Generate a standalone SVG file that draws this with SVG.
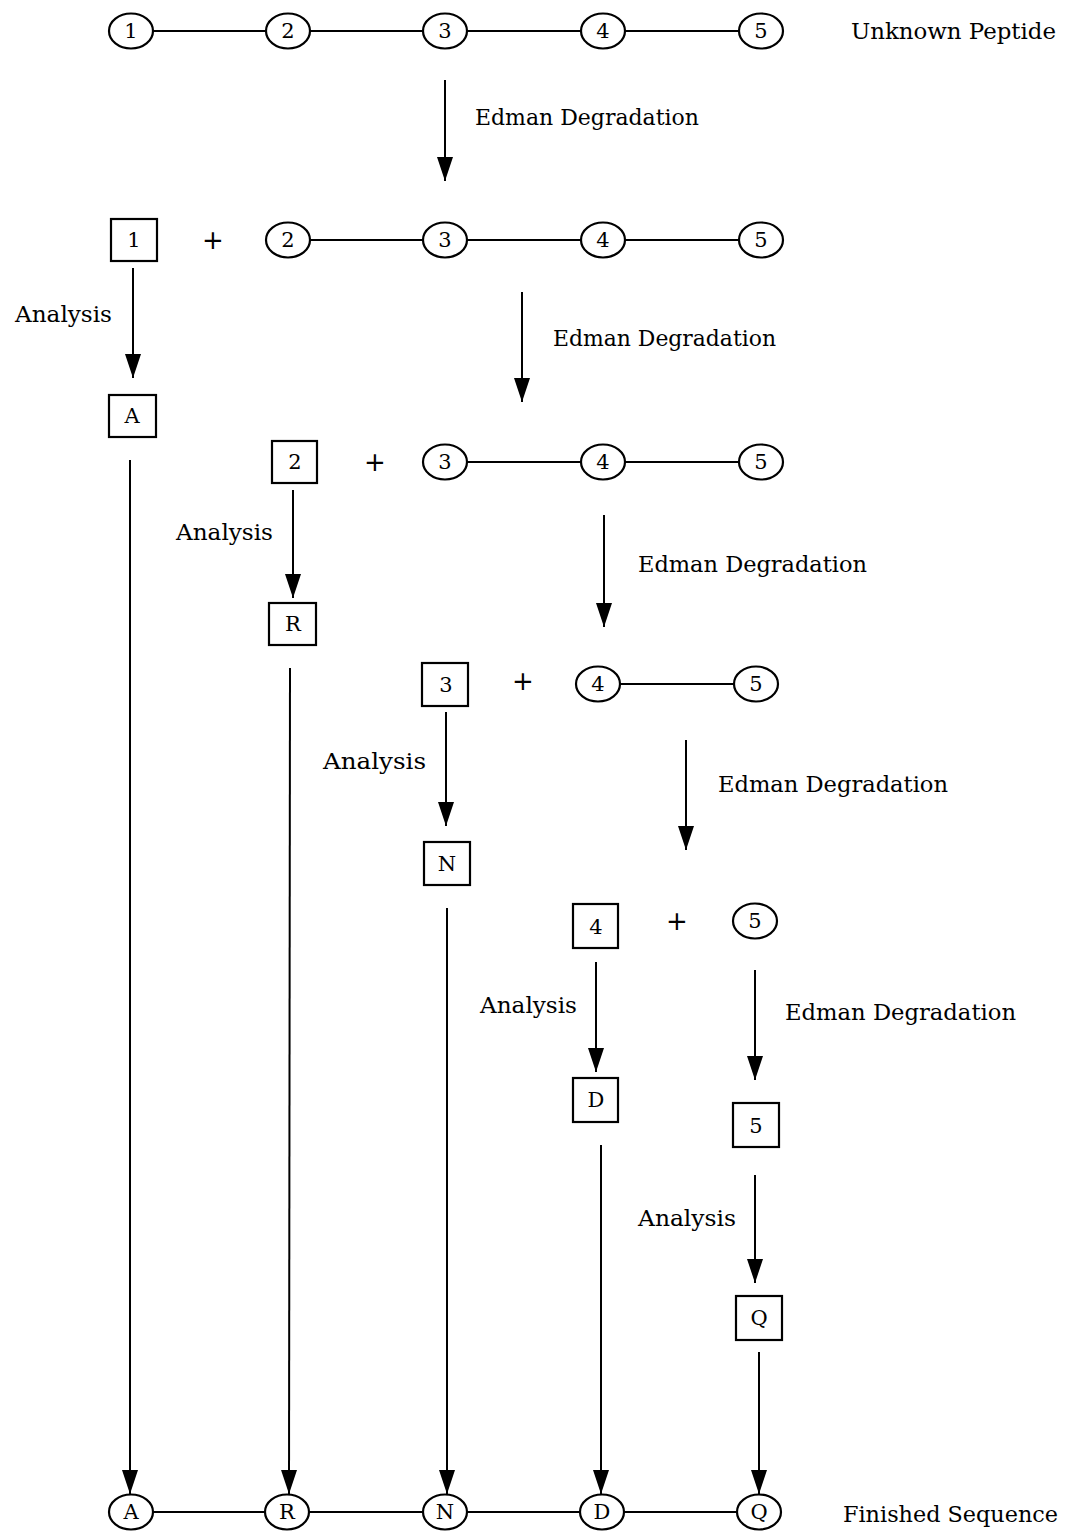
<svg xmlns="http://www.w3.org/2000/svg" width="1067" height="1537" viewBox="0 0 1067 1537">
<style>
.bg{fill:#fff}
.c{fill:#fff;stroke:#000;stroke-width:2.2}
.b{fill:#fff;stroke:#000;stroke-width:2.2}
.ln{stroke:#000;stroke-width:2;fill:none}
.ar{stroke:#000;stroke-width:2;fill:none;marker-end:url(#ah)}
.t{font-family:"DejaVu Serif","Liberation Serif",serif;font-size:21px;fill:#000;text-anchor:middle;dominant-baseline:central}
.lbl{font-family:"DejaVu Serif","Liberation Serif",serif;font-size:22px;fill:#000}
.plus{font-family:"DejaVu Sans","Liberation Sans",sans-serif;font-size:26px;fill:#000;text-anchor:middle;dominant-baseline:central}
</style>
<defs>
<marker id="ah" markerUnits="userSpaceOnUse" markerWidth="24" markerHeight="16" refX="24" refY="8" orient="auto">
<path d="M0,0 L24,8 L0,16 z" fill="#000"/>
</marker>
</defs>
<rect class="bg" x="0" y="0" width="1067" height="1537"/>

<g id="connectors">
<line class="ln" x1="153" y1="31" x2="266" y2="31"/>
<line class="ln" x1="310" y1="31" x2="423" y2="31"/>
<line class="ln" x1="467" y1="31" x2="581" y2="31"/>
<line class="ln" x1="625" y1="31" x2="739" y2="31"/>
<line class="ln" x1="310" y1="240" x2="423" y2="240"/>
<line class="ln" x1="467" y1="240" x2="581" y2="240"/>
<line class="ln" x1="625" y1="240" x2="739" y2="240"/>
<line class="ln" x1="467" y1="462" x2="581" y2="462"/>
<line class="ln" x1="625" y1="462" x2="739" y2="462"/>
<line class="ln" x1="620" y1="684" x2="734" y2="684"/>
<line class="ln" x1="153" y1="1512" x2="265" y2="1512"/>
<line class="ln" x1="309" y1="1512" x2="423" y2="1512"/>
<line class="ln" x1="467" y1="1512" x2="580" y2="1512"/>
<line class="ln" x1="624" y1="1512" x2="737" y2="1512"/>

<line class="ar" x1="445" y1="80" x2="445" y2="181"/>
<line class="ar" x1="522" y1="292" x2="522" y2="402"/>
<line class="ar" x1="604" y1="515" x2="604" y2="627"/>
<line class="ar" x1="686" y1="740" x2="686" y2="850"/>
<line class="ar" x1="755" y1="970" x2="755" y2="1080"/>

<line class="ar" x1="133" y1="268" x2="133" y2="378"/>
<line class="ar" x1="293" y1="490" x2="293" y2="598"/>
<line class="ar" x1="446" y1="712" x2="446" y2="826"/>
<line class="ar" x1="596" y1="962" x2="596" y2="1072"/>
<line class="ar" x1="755" y1="1175" x2="755" y2="1283"/>

<line class="ar" x1="130" y1="460" x2="130" y2="1494"/>
<line class="ar" x1="290" y1="668" x2="289" y2="1494"/>
<line class="ar" x1="447" y1="908" x2="447" y2="1494"/>
<line class="ar" x1="601" y1="1145" x2="601" y2="1494"/>
<line class="ar" x1="759" y1="1352" x2="759" y2="1494"/>
</g>

<g id="r1c1"><ellipse class="c" cx="131" cy="31" rx="22" ry="17.5"/><text class="t" x="131" y="31">1</text></g>
<g id="r1c2"><ellipse class="c" cx="288" cy="31" rx="22" ry="17.5"/><text class="t" x="288" y="31">2</text></g>
<g id="r1c3"><ellipse class="c" cx="445" cy="31" rx="22" ry="17.5"/><text class="t" x="445" y="31">3</text></g>
<g id="r1c4"><ellipse class="c" cx="603" cy="31" rx="22" ry="17.5"/><text class="t" x="603" y="31">4</text></g>
<g id="r1c5"><ellipse class="c" cx="761" cy="31" rx="22" ry="17.5"/><text class="t" x="761" y="31">5</text></g>
<text class="lbl" x="851" y="39" textLength="205" lengthAdjust="spacingAndGlyphs">Unknown Peptide</text>
<text class="lbl" x="475" y="125" textLength="224" lengthAdjust="spacingAndGlyphs">Edman Degradation</text>

<g id="r2b1"><rect class="b" x="111" y="219" width="46" height="42"/><text class="t" x="134" y="240">1</text></g>
<text class="plus" x="213" y="240">+</text>
<g id="r2c2"><ellipse class="c" cx="288" cy="240" rx="22" ry="17.5"/><text class="t" x="288" y="240">2</text></g>
<g id="r2c3"><ellipse class="c" cx="445" cy="240" rx="22" ry="17.5"/><text class="t" x="445" y="240">3</text></g>
<g id="r2c4"><ellipse class="c" cx="603" cy="240" rx="22" ry="17.5"/><text class="t" x="603" y="240">4</text></g>
<g id="r2c5"><ellipse class="c" cx="761" cy="240" rx="22" ry="17.5"/><text class="t" x="761" y="240">5</text></g>
<text class="lbl" x="15" y="322" textLength="97" lengthAdjust="spacingAndGlyphs">Analysis</text>
<text class="lbl" x="553" y="346" textLength="223" lengthAdjust="spacingAndGlyphs">Edman Degradation</text>
<g id="bA"><rect class="b" x="109" y="395" width="47" height="42"/><text class="t" x="132" y="416">A</text></g>

<g id="r3b2"><rect class="b" x="272" y="441" width="45" height="42"/><text class="t" x="295" y="462">2</text></g>
<text class="plus" x="375" y="462">+</text>
<g id="r3c3"><ellipse class="c" cx="445" cy="462" rx="22" ry="17.5"/><text class="t" x="445" y="462">3</text></g>
<g id="r3c4"><ellipse class="c" cx="603" cy="462" rx="22" ry="17.5"/><text class="t" x="603" y="462">4</text></g>
<g id="r3c5"><ellipse class="c" cx="761" cy="462" rx="22" ry="17.5"/><text class="t" x="761" y="462">5</text></g>
<text class="lbl" x="176" y="540" textLength="97" lengthAdjust="spacingAndGlyphs">Analysis</text>
<text class="lbl" x="638" y="572" textLength="229" lengthAdjust="spacingAndGlyphs">Edman Degradation</text>
<g id="bR"><rect class="b" x="269" y="603" width="47" height="42"/><text class="t" x="293" y="624">R</text></g>

<g id="r4b3"><rect class="b" x="422" y="663" width="46" height="43"/><text class="t" x="446" y="685">3</text></g>
<text class="plus" x="523" y="681">+</text>
<g id="r4c4"><ellipse class="c" cx="598" cy="684" rx="22" ry="17.5"/><text class="t" x="598" y="684">4</text></g>
<g id="r4c5"><ellipse class="c" cx="756" cy="684" rx="22" ry="17.5"/><text class="t" x="756" y="684">5</text></g>
<text class="lbl" x="323" y="769" textLength="103" lengthAdjust="spacingAndGlyphs">Analysis</text>
<text class="lbl" x="718" y="792" textLength="230" lengthAdjust="spacingAndGlyphs">Edman Degradation</text>
<g id="bN"><rect class="b" x="424" y="842" width="46" height="43"/><text class="t" x="447" y="864">N</text></g>

<g id="r5b4"><rect class="b" x="573" y="904" width="45" height="44"/><text class="t" x="596" y="927">4</text></g>
<text class="plus" x="677" y="921">+</text>
<g id="r5c5"><ellipse class="c" cx="755" cy="921" rx="22" ry="17.5"/><text class="t" x="755" y="921">5</text></g>
<text class="lbl" x="480" y="1013" textLength="97" lengthAdjust="spacingAndGlyphs">Analysis</text>
<text class="lbl" x="785" y="1020" textLength="231" lengthAdjust="spacingAndGlyphs">Edman Degradation</text>
<g id="bD"><rect class="b" x="573" y="1078" width="45" height="44"/><text class="t" x="596" y="1100">D</text></g>
<g id="r6b5"><rect class="b" x="733" y="1103" width="46" height="44"/><text class="t" x="756" y="1126">5</text></g>
<text class="lbl" x="638" y="1226" textLength="98" lengthAdjust="spacingAndGlyphs">Analysis</text>
<g id="bQ"><rect class="b" x="736" y="1296" width="46" height="44"/><text class="t" x="759" y="1318">Q</text></g>

<g id="fA"><ellipse class="c" cx="131" cy="1512" rx="22" ry="17.5"/><text class="t" x="131" y="1512">A</text></g>
<g id="fR"><ellipse class="c" cx="287" cy="1512" rx="22" ry="17.5"/><text class="t" x="287" y="1512">R</text></g>
<g id="fN"><ellipse class="c" cx="445" cy="1512" rx="22" ry="17.5"/><text class="t" x="445" y="1512">N</text></g>
<g id="fD"><ellipse class="c" cx="602" cy="1512" rx="22" ry="17.5"/><text class="t" x="602" y="1512">D</text></g>
<g id="fQ"><ellipse class="c" cx="759" cy="1512" rx="22" ry="17.5"/><text class="t" x="759" y="1512">Q</text></g>
<text class="lbl" x="843" y="1522" textLength="215" lengthAdjust="spacingAndGlyphs">Finished Sequence</text>
</svg>
